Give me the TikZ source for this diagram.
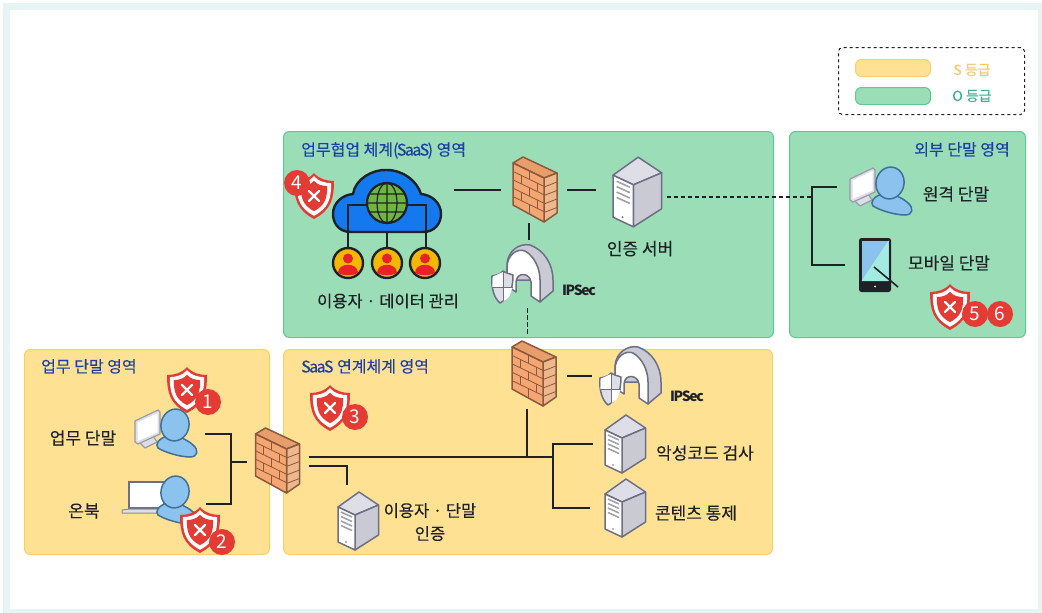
\documentclass[tikz,border=0pt]{standalone}
\usepackage{fontspec}
\setmainfont{Noto Sans CJK KR}
\newfontfamily\labelfont[FakeBold=0.2]{Noto Sans CJK KR}
\usetikzlibrary{arrows.meta,positioning,calc}

\definecolor{framepale}{HTML}{E6F4F4}
\definecolor{zonegreen}{HTML}{9ADDB7}
\definecolor{edgegreen}{HTML}{5FC993}
\definecolor{zoneyellow}{HTML}{FFE194}
\definecolor{edgeyellow}{HTML}{F6D265}
\definecolor{titleblue}{HTML}{1C3FA6}
\definecolor{inkdark}{HTML}{1E2226}
\definecolor{shieldred}{HTML}{E53B35}
\definecolor{brickfront}{HTML}{F5A673}
\definecolor{brickside}{HTML}{EFB78C}
\definecolor{bricktop}{HTML}{E89E6B}
\definecolor{brickline}{HTML}{8A5A3C}
\definecolor{metalline}{HTML}{6E6F85}
\definecolor{metalside}{HTML}{C9CAD4}
\definecolor{metaltop}{HTML}{DEDFE6}
\definecolor{personblue}{HTML}{8CC3EE}
\definecolor{personline}{HTML}{3E7099}
\definecolor{tabletteal}{HTML}{A3EBE0}
\definecolor{cloudblue}{HTML}{1478EE}
\definecolor{globegreen}{HTML}{70B53F}
\definecolor{coinyellow}{HTML}{F4B800}
\definecolor{coinred}{HTML}{E8212B}
\definecolor{legendyellow}{HTML}{F6CB6C}
\definecolor{legendgreen}{HTML}{3FB58A}

\tikzset{
  iconbox/.style={inner sep=0pt,outer sep=0pt,transform shape},
  firewall/.pic={
    \node[iconbox,minimum width=44pt,minimum height=66pt] (-box) at (0,0) {};
    \begin{scope}[draw=brickline,line width=1.5pt,line join=round]
      \filldraw[fill=bricktop] (-22,-27) -- (-12,-33) -- (22,-17) -- (9,-12) -- cycle;
      \filldraw[fill=brickside] (9,-12) -- (22,-17) -- (22,23) -- (9,32) -- cycle;
      \filldraw[fill=brickfront] (-22,-27) -- (9,-12) -- (9,32) -- (-22,15) -- cycle;
    \end{scope}
    \begin{scope}[draw=brickline,line width=.8pt]
      \foreach \y in {-18.6,-10.2,-1.8,6.6} \draw (-22,\y) -- (9,\y+15);
      \foreach \x/\y in {-6/-19.3,-14/-14.7,2/-7,-6/-2.5,-14/2.1,2/9.8,-6/14.3} \draw (\x,\y) -- ++(0,8.4);
      \foreach \y in {-3,5.5,14,22.5} \draw (9,\y) -- (22,\y-5);
    \end{scope}
  },
  server/.pic={
    \node[iconbox,minimum width=41pt,minimum height=58pt] (-box) at (0,0) {};
    \begin{scope}[draw=metalline,line width=1.5pt,line join=round]
      \filldraw[fill=metaltop] (-20,-14) -- (1,-29) -- (20.5,-16) -- (-3,-6) -- cycle;
      \filldraw[fill=metalside] (-3,-6) -- (20.5,-16) -- (20.5,14) -- (-3,29) -- cycle;
      \filldraw[fill=white] (-20,-14) -- (-3,-6) -- (-3,29) -- (-20,21) -- cycle;
    \end{scope}
    \foreach \y in {-9,-4.5,0,4.5} \draw[metalside!80!black,line width=1.6pt] (-17,\y) -- (-6,\y+5);
    \fill[metalline] (-12,21) circle (.9);
  },
  gateway/.pic={
    \node[iconbox,minimum width=60pt,minimum height=58pt] (-box) at (0,0) {};
    \begin{scope}[draw=metalline,line width=1.5pt,line join=round]
      \filldraw[fill=metalside] (-15,6) -- (-15,-10) .. controls (-14,-24) and (-2,-31) .. (8,-29)
        .. controls (22,-24) and (31,-10) .. (31,6) -- (31,17) -- (18,28) -- (18,6) -- cycle;
      \filldraw[fill=white] (-15,12) -- (-15,-6) .. controls (-15,-20) and (-4,-26) .. (3,-23)
        .. controls (12,-18) and (18,-6) .. (18,6) -- (18,28) -- (9,22) -- (9,8)
        .. controls (8,-1) and (-5,-3) .. (-6,8) -- (-6,18) -- cycle;
      \filldraw[fill=metaltop] (-30,2) .. controls (-25,1) and (-21,0) .. (-19,-3)
        .. controls (-16,-1) and (-12,0) .. (-9,1) .. controls (-9,14) and (-12,24) .. (-22,29)
        .. controls (-28,24) and (-31,14) .. (-30,2) -- cycle;
    \end{scope}
    \fill[white] (-29.2,2.6) -- (-19,-2) -- (-19,13) -- (-29.6,13) -- cycle;
    \fill[white] (-19,13) -- (-9.8,13) .. controls (-10.5,20) and (-13,25) .. (-19,27.5) -- cycle;
    \draw[metalline,line width=.7pt] (-19,-3) -- (-19,27) (-30,13) -- (-9.5,13);
  },
  person/.pic={
    \begin{scope}[draw=personline,fill=personblue,line width=1.5pt]
      \filldraw (-7,11) .. controls (-17,13) and (-20,20) .. (-17,23) .. controls (-9,28) and (6,32) .. (15,32)
        .. controls (23,32) and (24,25) .. (18,20) .. controls (15,17) and (11,15) .. (7,13) -- cycle;
      \filldraw[rotate=-12] (0,0) ellipse (14 and 16);
    \end{scope}
  },
  userdesk/.pic={
    \node[iconbox,minimum width=62pt,minimum height=46pt] (-box) at (0,0) {};
    \filldraw[draw=metalline!70,fill=metaltop,line width=1.2pt,line join=round]
      (-27,8) -- (-13,2) -- (-9,8) -- (-21,14) -- cycle;
    \filldraw[draw=metalline!70,fill=metaltop,line width=1.2pt,line join=round]
      (-31,-13) -- (-8,-24) -- (-6,-22) -- (-6,0) -- (-28,10) -- (-31,8) -- cycle;
    \fill[white] (-28.5,-11.5) -- (-8.5,-21) -- (-8.5,-1.5) -- (-28.5,7) -- cycle;
    \pic at (9,-9) {person};
  },
  usernote/.pic={
    \node[iconbox,minimum width=75pt,minimum height=52pt] (-box) at (0,0) {};
    \filldraw[draw=metalline,fill=white,line width=1.2pt] (-31,-22) rectangle (4,4);
    \filldraw[draw=metalline!80,fill=metaltop,line width=1pt,line join=round]
      (-38,6) -- (-30,5) -- (4,5) -- (4,9) -- (-38,9) -- cycle;
    \pic at (15,-12) {person};
  },
  tablet/.pic={
    \node[iconbox,minimum width=32pt,minimum height=54pt] (-box) at (0,0) {};
    \fill[inkdark,rounded corners=2.5pt] (-16,-27) rectangle (16,27);
    \fill[personblue] (-13.5,-24.5) rectangle (13.5,16);
    \fill[tabletteal] (13.5,-24.5) -- (13.5,16) -- (-13.5,16) -- cycle;
    \fill[white] (0,21.5) circle (1);
    \draw[inkdark,line width=1.6pt] (-1,2) -- (23,22);
  },
  cloudnet/.pic={
    \node[iconbox,minimum width=108pt,minimum height=62pt] (-box) at (0,0) {};
    \filldraw[draw=inkdark,fill=cloudblue,line width=2.4pt,line join=round]
      (-36,31) .. controls (-50,31) and (-54,20) .. (-54,13) .. controls (-54,2) and (-45,-6) .. (-34,-7)
      .. controls (-32,-22) and (-14,-32) .. (0,-31) .. controls (16,-31) and (30,-20) .. (34,-7)
      .. controls (45,-6) and (54,2) .. (54,13) .. controls (54,22) and (48,31) .. (36,31) -- cycle;
    \draw[inkdark,line width=2.2pt] (-39,47) -- (-39,4) -- (39,4) -- (39,47) (0,31) -- (0,47);
    \filldraw[draw=inkdark,fill=globegreen,line width=2.2pt] (0,2) circle (20);
    \draw[inkdark,line width=1.2pt] (0,2) ellipse (10 and 20) (0,-18) -- (0,22) (-20,2) -- (20,2) (-17,-7) -- (17,-7) (-17,11) -- (17,11);
    \foreach \x in {-39,0,38} {
      \begin{scope}[shift={(\x,62)}]
        \filldraw[draw=inkdark,fill=coinyellow,line width=2.4pt] (0,0) circle (15);
        \fill[coinred] (0,-4.5) circle (5);
        \fill[coinred] (-10,10) .. controls (-10,-1) and (10,-1) .. (10,10) .. controls (4,13) and (-4,13) .. (-10,10) -- cycle;
      \end{scope}
    }
  },
  alertshield/.pic={
    \foreach \s/\c in {1/shieldred,.86/white,.66/shieldred}
      \fill[\c,scale=\s] (0,-23) .. controls (5,-17) and (13,-15) .. (20,-15) .. controls (20,3) and (17,14) .. (0,23)
        .. controls (-17,14) and (-20,3) .. (-20,-15) .. controls (-13,-15) and (-5,-17) .. (0,-23) -- cycle;
    \draw[white,line width=2.4pt,line cap=round] (-5,-5) -- (5,5) (-5,5) -- (5,-5);
  }
}

\newcommand{\tightlatin}[1]{{\addfontfeatures{LetterSpace=-10}#1}}

\begin{document}
\begin{tikzpicture}[
  x=1pt,y=-1pt,
  node distance=6pt,
  greenzone/.style={draw=edgegreen,fill=zonegreen,line width=1pt,rounded corners=6pt,anchor=north west},
  yellowzone/.style={draw=edgeyellow,fill=zoneyellow,line width=1pt,rounded corners=6pt,anchor=north west},
  zonetitle/.style={font=\labelfont\fontsize{16}{19}\selectfont,text=titleblue,inner sep=0pt},
  lbl/.style={font=\labelfont\fontsize{17}{23}\selectfont,text=inkdark,inner sep=0pt,align=center},
  lblsmall/.style={lbl,font=\labelfont\fontsize{16.5}{23}\selectfont},
  gwlbl/.style={font=\fontsize{14}{17}\selectfont\bfseries,text=inkdark,inner sep=0pt},
  legendlbl/.style={font=\labelfont\fontsize{14}{16}\selectfont,inner sep=0pt},
  badge/.style={circle,fill=shieldred,text=white,inner sep=0pt,minimum size=26pt,font=\fontsize{19}{19}\selectfont},
  link/.style={inkdark,line width=1.9pt},
  dashlink/.style={inkdark,line width=1.9pt,dash pattern=on 4.5pt off 2.5pt}
]
\useasboundingbox (0,0) rectangle (1042,613);
\fill[framepale] (3,3) rectangle (1042,613);
\fill[white] (10,10) rectangle (1038,609);

% legend
\node[draw=inkdark,dashed,rounded corners=4pt,line width=1pt,minimum width=186pt,minimum height=67pt,anchor=north west] (legendbox) at (838,47) {};
\node[yellowzone,minimum width=75pt,minimum height=17pt] (legends) at (855,59) {};
\node[greenzone,minimum width=75pt,minimum height=17pt] (legendo) at (855,87) {};
\node[legendlbl,text=legendyellow] (legendstxt) at (972,70) {S 등급};
\node[legendlbl,text=legendgreen] (legendotxt) at (972,96) {O 등급};

% zones
\node[greenzone,minimum width=490pt,minimum height=206pt] (zonesaas) at (283,131) {};
\node[greenzone,minimum width=236pt,minimum height=206pt] (zoneext) at (789,131) {};
\node[yellowzone,minimum width=245pt,minimum height=205pt] (zonework) at (24,349) {};
\node[yellowzone,minimum width=489pt,minimum height=205pt] (zonelink) at (283,349) {};
\node[zonetitle,below right=11pt and 18pt of zonesaas.north west] (titlesaas) {업무협업 체계\tightlatin{(SaaS)} 영역};
\node[zonetitle,below left=11pt and 16pt of zoneext.north east] (titleext) {외부 단말 영역};
\node[zonetitle,below right=10pt and 17pt of zonework.north west] (titlework) {업무 단말 영역};
\node[zonetitle,below right=10pt and 18pt of zonelink.north west] (titlelink) {\tightlatin{SaaS} 연계체계 영역};

% icons
\pic (cloudnet) at (387,201) {cloudnet};
\pic (fwtop) at (535,190) {firewall};
\pic[scale=1.2] (srvauth) at (637,192) {server};
\pic (gwtop) at (522,274) {gateway};
\pic (devremote) at (881,192) {userdesk};
\pic (devtablet) at (875,265) {tablet};
\pic (devdesk) at (166,434) {userdesk};
\pic (devnote) at (160,504) {usernote};
\pic (fwleft) at (277.5,461) {firewall};
\pic (fwmid) at (534,374) {firewall};
\pic (gwmid) at (630,376) {gateway};
\pic (srvscan) at (625,444) {server};
\pic (srvfilter) at (625,508) {server};
\pic (srvuser) at (358,521) {server};

% labels
\node[lblsmall] (lblcloud) at (388,301) {이용자 · 데이터 관리};
\node[lbl,below=14pt of srvauth-box,xshift=3pt] (lblauth) {인증 서버};
\node[gwlbl] (lblgwtop) at (579,290) {\tightlatin{IPSec}};
\node[gwlbl] (lblgwmid) at (687,396) {\tightlatin{IPSec}};
\node[lbl] (lblremote) at (956,194) {원격 단말};
\node[lbl] (lbltablet) at (949,263) {모바일 단말};
\node[lbl] (lbldesk) at (83,438) {업무 단말};
\node[lbl] (lblnote) at (84,511) {온북};
\node[lbl] (lblscan) at (705,453) {악성코드 검사};
\node[lbl] (lblfilter) at (696,513) {콘텐츠 통제};
\node[lblsmall] (lbluser) at (430,522) {이용자 · 단말\\인증};

% connectors
\coordinate (joinleft) at (231,462);
\coordinate (joinext) at (812,197);
\coordinate (tapa) at (527,457);
\coordinate (tapb) at (553,457);
\coordinate (stub) at (347,466);
\draw[link,shorten <=13pt,shorten >=12pt] (cloudnet-box.east |- fwtop-box.west) -- (fwtop-box.west);
\draw[link,shorten <=10pt,shorten >=16pt] (fwtop-box.east) -- (srvauth-box.west |- fwtop-box.east);
\draw[link,shorten >=5pt] ([xshift=-6pt]fwtop-box.south) -- ([xshift=7pt]gwtop-box.north);
\draw[dashlink,shorten <=5pt,shorten >=6pt] ([xshift=5.5pt]gwtop-box.south) -- ([xshift=-6.5pt]fwmid-box.north);
\draw[dashlink,shorten <=5pt] (srvauth-box.east |- joinext) -- (joinext);
\draw[link,shorten >=13pt] (joinext) |- ([yshift=5pt]devremote-box.west);
\draw[link,shorten >=14pt] (joinext) |- (devtablet-box.west);
\draw[link,shorten <=8pt] (devdesk-box.east) -| (joinleft);
\draw[link,shorten <=8pt] (devnote-box.east) -| (joinleft);
\draw[link,shorten >=9pt] (joinleft) -- (fwleft-box.west |- joinleft);
\draw[link,shorten <=9pt] (fwleft-box.east |- tapb) -- (tapb);
\draw[link,shorten <=9pt,shorten >=7pt] (fwleft-box.east |- stub) -- (stub) -- (stub |- srvuser-box.north);
\draw[link,shorten >=2pt] (tapa) -- (tapa |- fwmid-box.south);
\draw[link,shorten >=12pt] (tapb) |- (srvscan-box.west);
\draw[link,shorten >=15pt] (tapb) |- (srvfilter-box.west);
\draw[link,shorten <=11pt,shorten >=8pt] (fwmid-box.east |- gwmid-box.west) -- (gwmid-box.west);

% alerts
\pic at (187,390) {alertshield};
\node[badge] (alertone) at (208,402) {1};
\pic at (200,530) {alertshield};
\node[badge] (alerttwo) at (222,542) {2};
\pic at (330,408) {alertshield};
\node[badge] (alertthree) at (355,417) {3};
\pic at (314,196) {alertshield};
\node[badge] (alertfour) at (297,183) {4};
\pic at (950,307) {alertshield};
\node[badge] (alertfive) at (975,314) {5};
\node[badge] (alertsix) at (1000,314) {6};
\end{tikzpicture}
\end{document}
